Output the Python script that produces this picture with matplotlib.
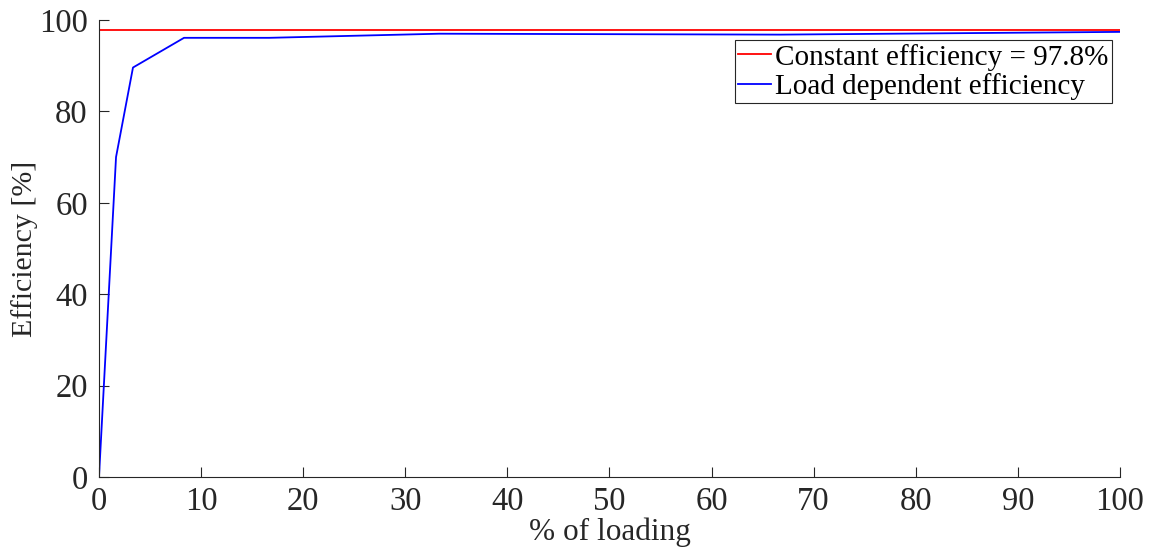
import matplotlib
matplotlib.use("Agg")
from matplotlib import pyplot as plt

# data
load_pct = [0, 1.67, 3.33, 8.33, 16.67, 33.33, 66.67, 100]
eff_load = [0, 70, 89.6, 96.1, 96.1, 97.0, 96.8, 97.4]
const_x = [0, 100]
const_eff = [97.8, 97.8]

plt.rcParams['font.family'] = ['Liberation Serif', 'DejaVu Serif']
dark = "#262626"

fig = plt.figure(figsize=(11.51, 5.51), dpi=100)
ax = fig.add_axes([0.086, 0.1343, 0.887, 0.8294])

ax.plot(const_x, const_eff, color="red", linewidth=1.3, label="Constant efficiency = 97.8%")
ax.plot(load_pct, eff_load, color="blue", linewidth=1.3, label="Load dependent efficiency")

ax.set_xlim(0, 100)
ax.set_ylim(0, 100)
ax.set_xticks(range(0, 101, 10))
ax.set_yticks(range(0, 101, 20))
ax.spines["top"].set_visible(False)
ax.spines["right"].set_visible(False)
for s in ["left", "bottom"]:
    ax.spines[s].set_color(dark)
    ax.spines[s].set_linewidth(0.8)
ax.tick_params(direction="in", length=7.5, width=0.8, colors=dark, labelsize=23.5)
ax.tick_params(axis="x", pad=7)
ax.tick_params(axis="y", pad=8)

ax.set_xlabel("% of loading", fontsize=22.5, color=dark, labelpad=0)
ax.set_ylabel("Efficiency [%]", fontsize=21.5, color=dark, labelpad=1)

leg = ax.legend(loc="upper right", bbox_to_anchor=(0.992, 0.956), fontsize=21,
                handlelength=1.1, handletextpad=0.15, borderpad=0.12,
                labelspacing=0.08, fancybox=False, framealpha=1, borderaxespad=0)
leg.get_frame().set_edgecolor(dark)
leg.get_frame().set_linewidth(0.8)

plt.savefig("out.png", dpi=100)
